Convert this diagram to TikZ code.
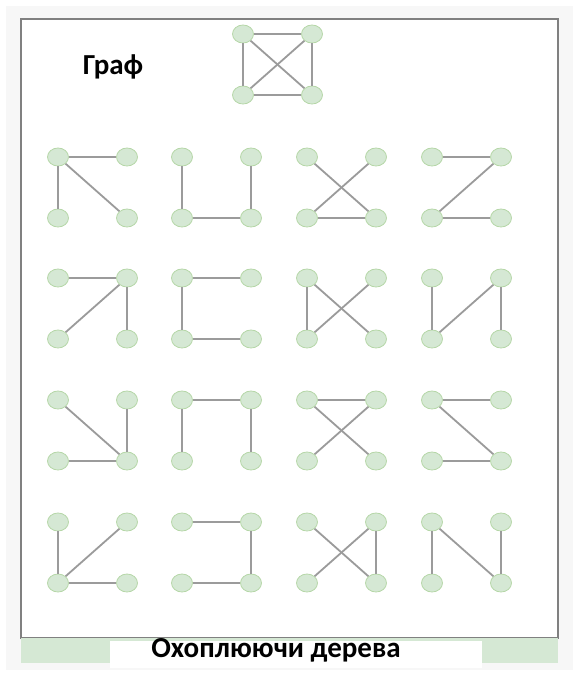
\documentclass[tikz,border=0pt]{standalone}
\usepackage{fontspec}
\setmainfont{Carlito}
\usepackage{xcolor}
\usepackage{tikz}
\usetikzlibrary{shapes.geometric}
\definecolor{vfill}{RGB}{213,232,212}
\definecolor{vline}{RGB}{182,215,168}
\definecolor{egray}{RGB}{155,155,155}
\definecolor{frame}{RGB}{128,128,128}
\newcommand{\spantree}[4]{%
  \node[vert] (#1a) at (#2,#3) {};
  \node[vert] (#1b) at ({#2+69},#3) {};
  \node[vert] (#1c) at (#2,{#3+61}) {};
  \node[vert] (#1d) at ({#2+69},{#3+61}) {};
  \foreach \u/\v in {#4} \draw[edge] (#1\u) -- (#1\v);
}

\begin{document}
\begin{tikzpicture}[x=1pt, y=-1pt, font=\bfseries,
  vert/.style={ellipse, draw=vline, line width=0.8pt, fill=vfill, minimum width=21pt, minimum height=18pt, inner sep=0pt},
  edge/.style={draw=egray, line width=1.8pt},
  title/.style={font=\fontsize{29}{33}\selectfont\bfseries, inner sep=0pt}]
\useasboundingbox (0,0) rectangle (579,673);
\fill[gray!6] (6,6) rectangle (573,670);
\fill[white] (21,19) rectangle (558,638);
\draw[frame, line width=1.3pt] (21,19) rectangle (558,638);
\fill[vfill] (21,638) rectangle (558,663);
\fill[white] (110,641) rectangle (482,668);
\node[title] (graf) at (113,67) {Граф};
\node[title] (trees) at (276,650) {Охоплюючи дерева};
\spantree{g}{243}{34}{a/b,a/c,a/d,b/c,b/d,c/d}
\spantree{p1}{58}{157}{a/b,a/c,a/d}
\spantree{p2}{182}{157}{a/c,c/d,b/d}
\spantree{p3}{307}{157}{a/d,b/c,c/d}
\spantree{p4}{432}{157}{a/b,b/c,c/d}
\spantree{p5}{58}{278}{a/b,b/c,b/d}
\spantree{p6}{182}{278}{a/b,a/c,c/d}
\spantree{p7}{307}{278}{a/c,a/d,c/b}
\spantree{p8}{432}{278}{a/c,c/b,b/d}
\spantree{p9}{58}{400}{a/d,b/d,c/d}
\spantree{p10}{182}{400}{a/b,a/c,b/d}
\spantree{p11}{307}{400}{a/b,a/d,c/b}
\spantree{p12}{432}{400}{a/b,a/d,c/d}
\spantree{p13}{58}{522}{a/c,c/b,c/d}
\spantree{p14}{182}{522}{a/b,b/d,c/d}
\spantree{p15}{307}{522}{a/d,c/b,b/d}
\spantree{p16}{432}{522}{a/c,a/d,b/d}
\end{tikzpicture}
\end{document}
